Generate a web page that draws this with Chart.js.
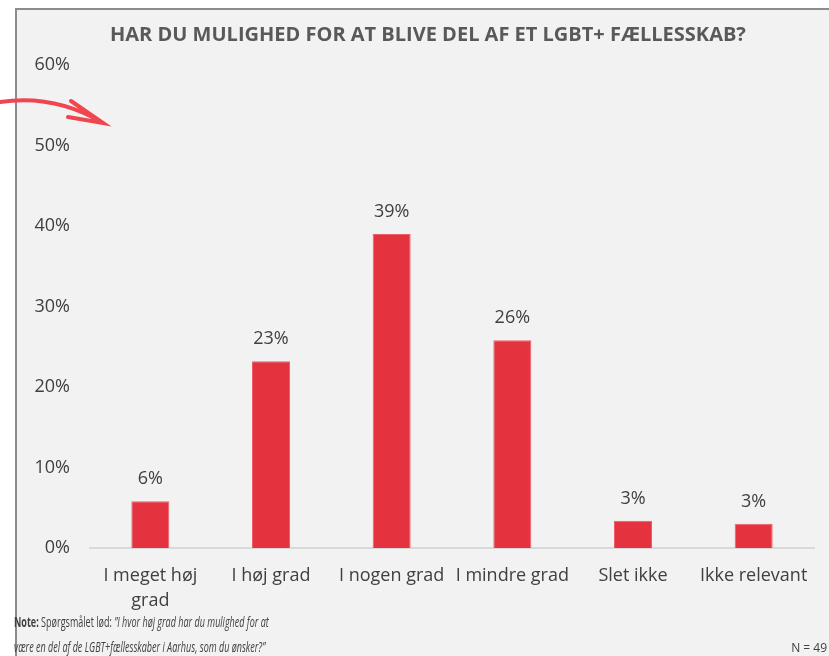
<!DOCTYPE html>
<html>
<head>
<meta charset="utf-8">
<script src="https://cdn.jsdelivr.net/npm/chart.js@4"></script>
<style>
  html, body { margin: 0; padding: 0; background: #ffffff; }
  #wrap { position: relative; width: 829px; height: 656px; overflow: hidden; }
  #panel {
    position: absolute; left: 15px; top: 8px; right: -5px; bottom: -5px;
    background: #f2f2f2; border-left: 2px solid #8c8c8c; border-top: 2px solid #8c8c8c;
  }
  #title {
    position: absolute; left: 110px; top: 21px; white-space: nowrap;
    font: bold 20px "Open Sans", sans-serif; color: #595959; line-height: 26px;
  }
  .note {
    position: absolute; left: 14px; white-space: nowrap; color: #404040;
    font: 14px "Open Sans", sans-serif; line-height: 18px;
    transform: scaleX(0.645); transform-origin: left center;
  }
  #n {
    position: absolute; right: 2px; top: 639px; color: #404040;
    font: 12px "Open Sans", sans-serif; line-height: 18px;
  }
  canvas { position: absolute; left: 0; top: 0; }
</style>
</head>
<body>
<div id="wrap">
  <div id="panel"></div>
  <canvas id="chart" width="829" height="656"></canvas>
  <div id="title">HAR DU MULIGHED FOR AT BLIVE DEL AF ET LGBT+ FÆLLESSKAB?</div>
  <div class="note" style="top:613px"><b>Note:</b> Spørgsmålet lød: <i>”I hvor høj grad har du mulighed for at</i></div>
  <div class="note" style="top:638px"><i>være en del af de LGBT+fællesskaber i Aarhus, som du ønsker?”</i></div>
  <div id="n">N = 49</div>
</div>
<script>
// answer categories and share of respondents (%)
const categories = [['I meget høj', 'grad'], 'I høj grad', 'I nogen grad', 'I mindre grad', 'Slet ikke', 'Ikke relevant'];
const shares = [5.8, 23.2, 39.0, 25.8, 3.4, 3.0];
const yTicks = [0, 10, 20, 30, 40, 50, 60];

const textColor = '#404040';
const barRed = '#e4323f';

// percentage labels above each bar
const barLabels = {
  id: 'barLabels',
  afterDatasetsDraw(chart) {
    const ctx = chart.ctx;
    const meta = chart.getDatasetMeta(0);
    ctx.save();
    ctx.font = '18px "Open Sans", sans-serif';
    ctx.fillStyle = textColor;
    ctx.textAlign = 'center';
    ctx.textBaseline = 'middle';
    meta.data.forEach((bar, i) => {
      ctx.fillText(Math.round(shares[i]) + '%', bar.x, bar.y - 22);
    });
    ctx.restore();
  }
};

// the hand-drawn red arrow in the top left corner
const arrow = {
  id: 'arrow',
  afterDraw(chart) {
    const ctx = chart.ctx;
    ctx.save();
    ctx.strokeStyle = '#f0464f';
    ctx.lineWidth = 4;
    ctx.lineCap = 'round';
    ctx.beginPath();
    ctx.moveTo(0, 102);
    ctx.quadraticCurveTo(55, 94, 103, 123);
    ctx.moveTo(71, 101);
    ctx.lineTo(103, 123);
    ctx.lineTo(68, 117);
    ctx.stroke();
    ctx.restore();
  }
};

new Chart(document.getElementById('chart').getContext('2d'), {
  type: 'bar',
  data: {
    labels: categories,
    datasets: [{
      data: shares,
      backgroundColor: barRed,
      borderColor: '#ee5e69',
      borderWidth: 1,
      categoryPercentage: 1,
      barPercentage: 0.315
    }]
  },
  options: {
    responsive: false,
    animation: false,
    layout: { padding: { top: 65, right: 15, bottom: 38, left: 0 } },
    plugins: {
      legend: { display: false },
      title: { display: false },
      tooltip: { enabled: false }
    },
    scales: {
      x: {
        grid: { display: false, drawTicks: false },
        border: { display: true, color: '#d9d9d9', width: 2 },
        ticks: {
          color: textColor,
          padding: 15,
          maxRotation: 0,
          autoSkip: false,
          font: { family: '"Open Sans", sans-serif', size: 18, lineHeight: 1.4 }
        },
        afterFit(scale) { scale.height = 70; }
      },
      y: {
        min: 0,
        max: 60,
        grid: { display: false, drawTicks: false },
        border: { display: false },
        afterBuildTicks(scale) { scale.ticks = yTicks.map(v => ({ value: v })); },
        ticks: {
          color: textColor,
          padding: 20,
          font: { family: '"Open Sans", sans-serif', size: 18 },
          callback: v => v + '%'
        },
        afterFit(scale) { scale.width = 90; }
      }
    }
  },
  plugins: [barLabels, arrow]
});
</script>
</body>
</html>
